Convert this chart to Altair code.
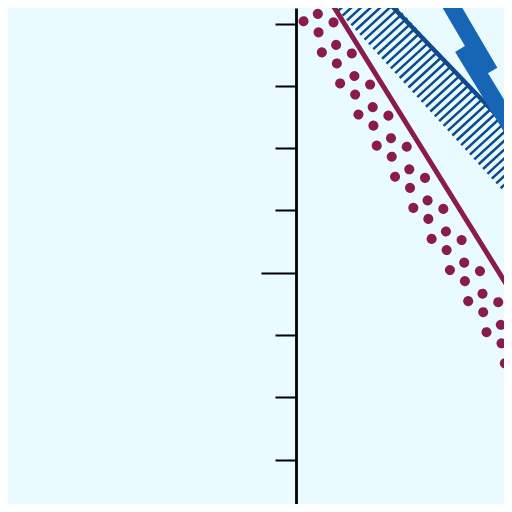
import altair as alt
import pandas as pd

# y-axis tick values
y_ticks = [-3, -2, -1, 0, 1, 2, 3, 4]

# maroon central line
maroon_x = [0.340, 1.937, 3.666]
maroon_y = [4.698, 2.130, -0.652]

# dark-blue band edge
edge_x = [1.136, 2.456, 3.775]
edge_y = [4.698, 3.326, 1.953]

# hatched band centre line
hatch_x = [0.724, 3.958]
hatch_y = [4.698, 1.167]

# thick blue series (two offset pieces)
blue_seg = ["u", "u", "l", "l"]
blue_x = [2.343, 3.114, 2.671, 3.772]
blue_y = [4.538, 3.221, 3.615, 1.809]

# dotted band (four staggered rows)
dot_rows = ["a", "a", "b", "b", "c", "c", "d", "d"]
dot_x = [-0.173, 3.939, -0.226, 3.886, 0.056, 4.169, 0.308, 4.421]
dot_y = [4.536, -2.453, 4.857, -2.132, 4.655, -2.334, 4.518, -2.470]

X_DOMAIN = [-4.6228, 3.3387]
Y_DOMAIN = [-3.7127, 4.2488]

xs = alt.Scale(domain=X_DOMAIN, nice=False, zero=False)
ys = alt.Scale(domain=Y_DOMAIN, nice=False, zero=False)

yaxis = alt.Axis(
    values=y_ticks, labels=False, title=None, grid=False,
    domainColor="black", domainWidth=2.8,
    tickColor="black", tickWidth=2,
    tickSize=alt.condition("datum.value == 0", alt.value(35), alt.value(21)),
    offset=-288, orient="left",
)

X = alt.X("x:Q", scale=xs, axis=None)
Y = alt.Y("y:Q", scale=ys, axis=yaxis)

MAROON = "#8a1b4f"
DARK = "#0f4a8e"
BLUE = "#1766b6"

hatch = alt.Chart(pd.DataFrame({"x": hatch_x, "y": hatch_y})).mark_line(
    clip=True, color=DARK, strokeWidth=46, strokeDash=[2.5, 4.0], strokeCap="butt"
).encode(x=X, y=Y)

edge = alt.Chart(pd.DataFrame({"x": edge_x, "y": edge_y})).mark_line(
    clip=True, color=DARK, strokeWidth=4.5
).encode(x=X, y=Y)

blue = alt.Chart(pd.DataFrame({"x": blue_x, "y": blue_y, "seg": blue_seg})).mark_line(
    clip=True, color=BLUE, strokeWidth=17, strokeCap="butt"
).encode(x=X, y=Y, detail="seg:N")

dots = alt.Chart(pd.DataFrame({"x": dot_x, "y": dot_y, "row": dot_rows})).mark_line(
    clip=True, color=MAROON, strokeWidth=10, strokeDash=[0.1, 35.98], strokeCap="round"
).encode(x=X, y=Y, detail="row:N")

maroon = alt.Chart(pd.DataFrame({"x": maroon_x, "y": maroon_y})).mark_line(
    clip=True, color=MAROON, strokeWidth=5
).encode(x=X, y=Y)

chart = alt.layer(hatch, edge, blue, dots, maroon).properties(
    width=496, height=496, padding=0, autosize="none", background="#e9fbfe"
).configure_view(stroke=None)

chart.save("out.html", embed_options={"renderer": "svg", "actions": False})
